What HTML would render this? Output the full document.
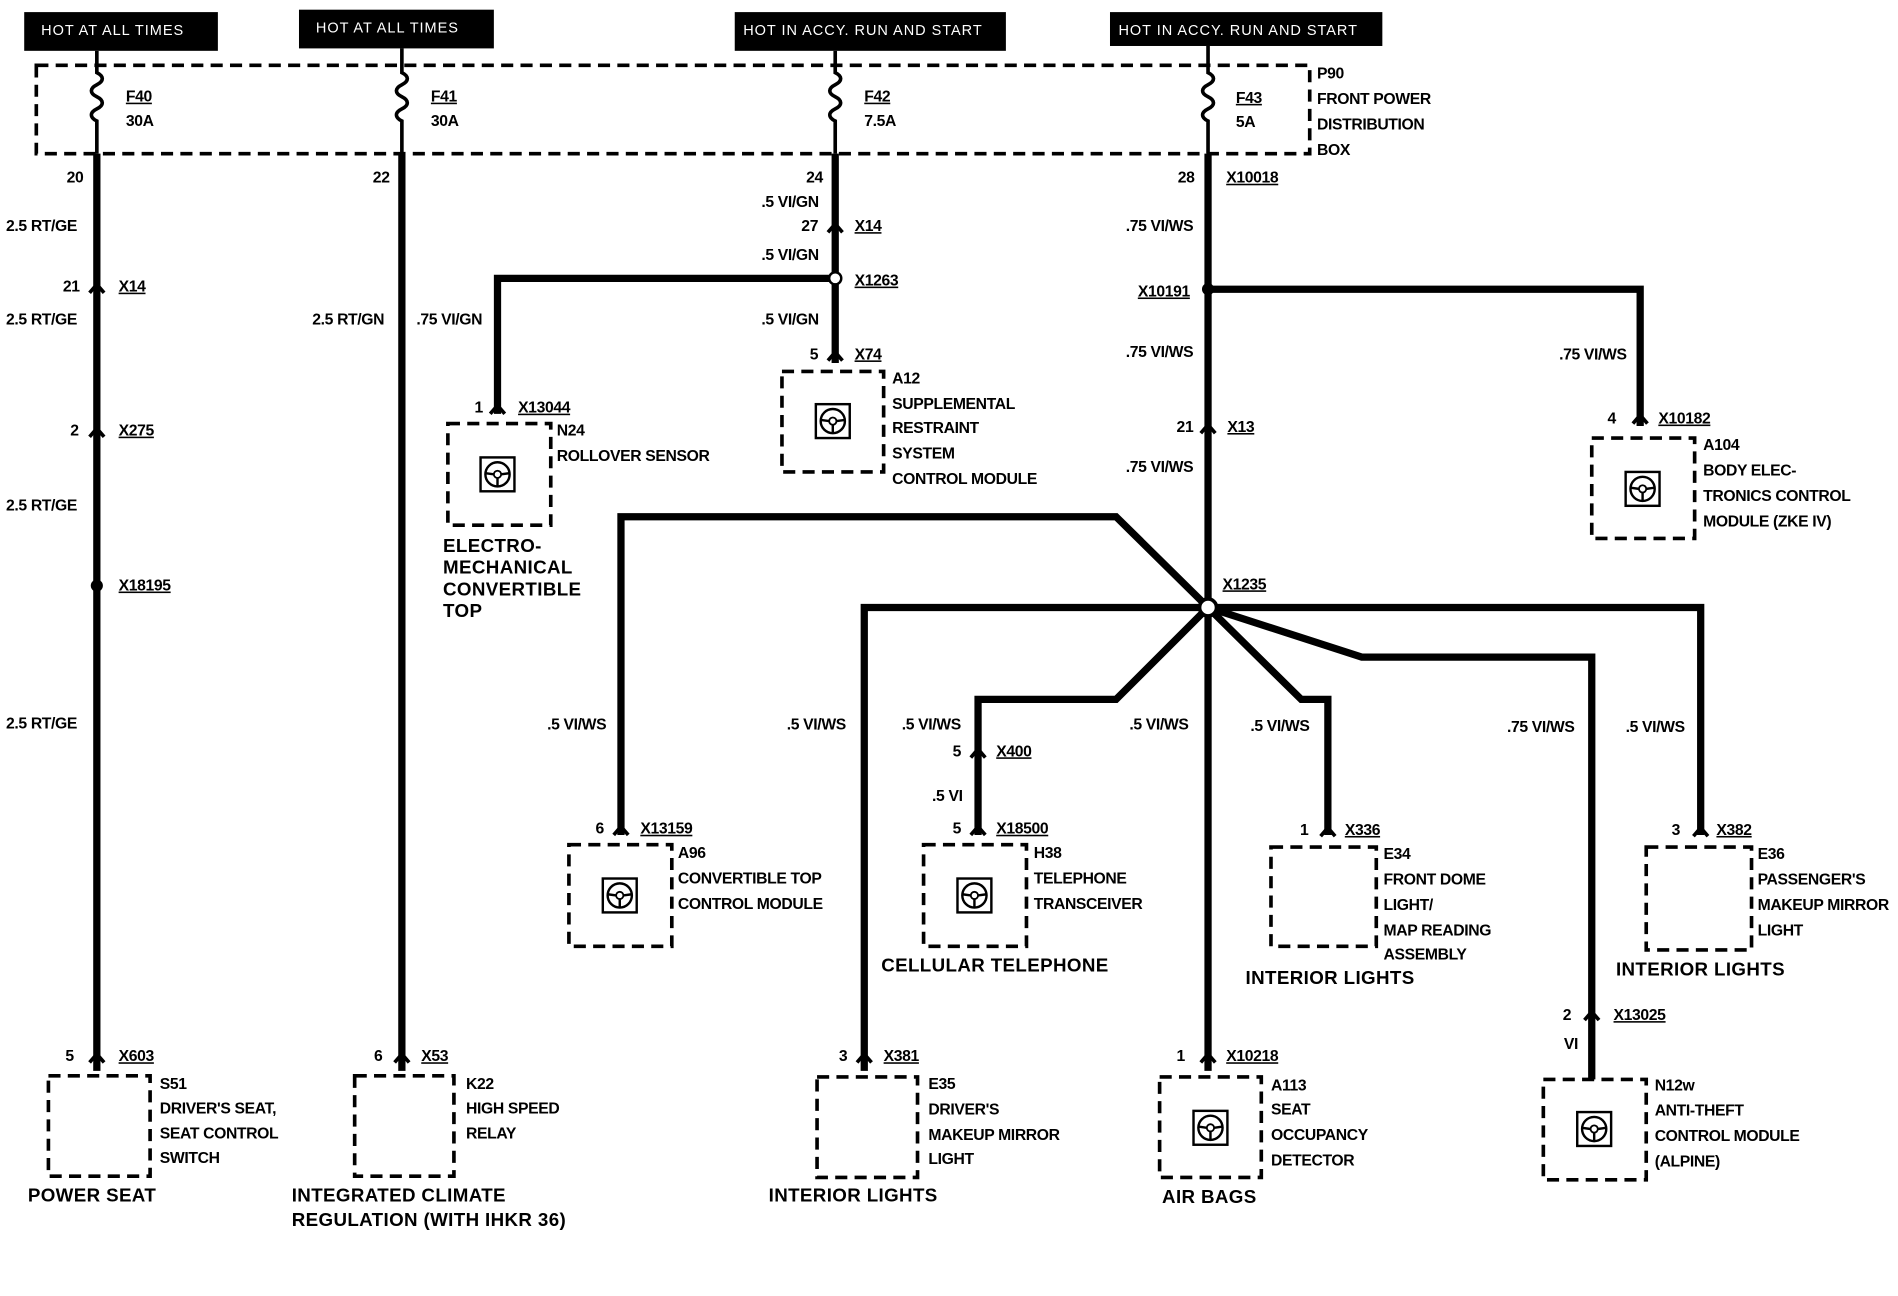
<!DOCTYPE html>
<html><head><meta charset="utf-8"><style>
html,body{margin:0;padding:0;background:#fff}
svg{display:block}
text{font-family:"Liberation Sans",Arial,sans-serif;font-size:13px;font-weight:bold;fill:#000;letter-spacing:-0.3px}
.t{fill:#fff;font-size:12px;font-weight:normal;letter-spacing:0.8px}
.big{font-size:15.5px;letter-spacing:0.3px}
.u{text-decoration:underline}
.w{stroke:#000;stroke-width:6;fill:none;stroke-linejoin:miter}
.d{stroke:#000;stroke-width:3;fill:none;stroke-dasharray:10 6}
.c{stroke:#000;stroke-width:2;fill:none}
</style></head><body>
<svg width="1898" height="1296" viewBox="0 0 1568 1071" preserveAspectRatio="none" xmlns="http://www.w3.org/2000/svg">
<defs>
<g id="ic"><rect x="-14" y="-14" width="28" height="28" fill="none" stroke="#000" stroke-width="2"/><circle r="10" fill="none" stroke="#000" stroke-width="2"/><circle r="3" fill="none" stroke="#000" stroke-width="1.5"/><path d="M-10 -1 L-3 0 M10 -1 L3 0 M0 3 L0 10" stroke="#000" stroke-width="2"/></g>
<path id="ch" d="M-6 5 L0 -2 L6 5" stroke="#000" stroke-width="3" fill="none"/>
</defs>
<!-- top labels -->
<rect x="20" y="10" width="160" height="32" fill="#000"/><text class="t" x="34" y="29">HOT AT ALL TIMES</text>
<rect x="247" y="8" width="161" height="32" fill="#000"/><text class="t" x="261" y="27">HOT AT ALL TIMES</text>
<rect x="607" y="10" width="224" height="32" fill="#000"/><text class="t" x="614" y="29">HOT IN ACCY. RUN AND START</text>
<rect x="917" y="10" width="225" height="28" fill="#000"/><text class="t" x="924" y="29">HOT IN ACCY. RUN AND START</text>
<!-- distribution box -->
<rect class="d" x="30" y="54" width="1052" height="73"/>
<g stroke="#000" stroke-width="3" fill="none">
<path d="M80 42 V60 c6 3 6 7 0 10 c-6 3 -6 7 0 10 c6 3 6 7 0 10 c-6 3 -6 7 0 10 V127"/>
<path d="M332 40 V60 c6 3 6 7 0 10 c-6 3 -6 7 0 10 c6 3 6 7 0 10 c-6 3 -6 7 0 10 V127"/>
<path d="M690 42 V60 c6 3 6 7 0 10 c-6 3 -6 7 0 10 c6 3 6 7 0 10 c-6 3 -6 7 0 10 V127"/>
<path d="M998 38 V60 c6 3 6 7 0 10 c-6 3 -6 7 0 10 c6 3 6 7 0 10 c-6 3 -6 7 0 10 V127"/>
</g>
<text class="u" x="104" y="84">F40</text><text x="104" y="104">30A</text>
<text class="u" x="356" y="84">F41</text><text x="356" y="104">30A</text>
<text class="u" x="714" y="84">F42</text><text x="714" y="104">7.5A</text>
<text class="u" x="1021" y="85">F43</text><text x="1021" y="105">5A</text>
<text x="1088" y="65">P90</text><text x="1088" y="86">FRONT POWER</text><text x="1088" y="107">DISTRIBUTION</text><text x="1088" y="128">BOX</text>
<!-- wires -->
<path class="w" d="M80 127 V885 M332 127 V885 M690 127 V300 M690 230 H411 V342 M998 127 V885 M998 239 H1355 V352"/>
<path class="w" d="M998 502 L922 427 H513 V690 M998 502 H714 V885 M998 502 L922 578 H808 V690 M998 502 L1075 578 H1097 V690 M998 502 L1125 543 H1315 V892 M998 502 H1405 V690"/>
<circle cx="998" cy="502" r="7" fill="#fff" stroke="#000" stroke-width="3"/>
<circle cx="80" cy="484" r="5" fill="#000"/><circle cx="690" cy="230" r="5" fill="#fff" stroke="#000" stroke-width="2"/><circle cx="998" cy="239" r="5" fill="#000"/>
<!-- chevrons -->
<use href="#ch" x="80" y="237"/><use href="#ch" x="80" y="356"/><use href="#ch" x="80" y="873"/>
<use href="#ch" x="332" y="873"/><use href="#ch" x="690" y="187"/><use href="#ch" x="690" y="293"/><use href="#ch" x="411" y="337"/>
<use href="#ch" x="998" y="353"/><use href="#ch" x="1355" y="345"/><use href="#ch" x="513" y="685"/><use href="#ch" x="714" y="873"/>
<use href="#ch" x="808" y="621"/><use href="#ch" x="808" y="685"/><use href="#ch" x="998" y="873"/><use href="#ch" x="1097" y="686"/>
<use href="#ch" x="1315" y="838"/><use href="#ch" x="1405" y="686"/>
<!-- wire 1 labels -->
<text x="55" y="151">20</text><text x="5" y="191">2.5 RT/GE</text><text x="52" y="241">21</text><text class="u" x="98" y="241">X14</text>
<text x="5" y="268">2.5 RT/GE</text><text x="58" y="360">2</text><text class="u" x="98" y="360">X275</text><text x="5" y="422">2.5 RT/GE</text>
<text class="u" x="98" y="488">X18195</text><text x="5" y="602">2.5 RT/GE</text><text x="54" y="877">5</text><text class="u" x="98" y="877">X603</text>
<rect class="d" x="40" y="889" width="84" height="83"/>
<text x="132" y="900">S51</text><text x="132" y="920">DRIVER'S SEAT,</text><text x="132" y="941">SEAT CONTROL</text><text x="132" y="961">SWITCH</text>
<text class="big" x="23" y="993">POWER SEAT</text>
<!-- wire 2 -->
<text x="308" y="151">22</text><text x="258" y="268">2.5 RT/GN</text><text x="309" y="877">6</text><text class="u" x="348" y="877">X53</text>
<rect class="d" x="293" y="889" width="82" height="83"/>
<text x="385" y="900">K22</text><text x="385" y="920">HIGH SPEED</text><text x="385" y="941">RELAY</text>
<text class="big" x="241" y="993">INTEGRATED CLIMATE</text><text class="big" x="241" y="1013">REGULATION (WITH IHKR 36)</text>
<!-- wire 3 -->
<text x="666" y="151">24</text><text x="629" y="171">.5 VI/GN</text><text x="662" y="191">27</text><text class="u" x="706" y="191">X14</text>
<text x="629" y="215">.5 VI/GN</text><text class="u" x="706" y="236">X1263</text><text x="344" y="268">.75 VI/GN</text><text x="629" y="268">.5 VI/GN</text>
<text x="669" y="297">5</text><text class="u" x="706" y="297">X74</text>
<rect class="d" x="646" y="307" width="84" height="83"/><use href="#ic" x="688" y="348"/>
<text x="737" y="317">A12</text><text x="737" y="338">SUPPLEMENTAL</text><text x="737" y="358">RESTRAINT</text><text x="737" y="379">SYSTEM</text><text x="737" y="400">CONTROL MODULE</text>
<text x="392" y="341">1</text><text class="u" x="428" y="341">X13044</text>
<rect class="d" x="370" y="350" width="85" height="84"/><use href="#ic" x="411" y="392"/>
<text x="460" y="360">N24</text><text x="460" y="381">ROLLOVER SENSOR</text>
<text class="big" x="366" y="456">ELECTRO-</text><text class="big" x="366" y="474">MECHANICAL</text><text class="big" x="366" y="492">CONVERTIBLE</text><text class="big" x="366" y="510">TOP</text>
<!-- wire 4 -->
<text x="973" y="151">28</text><text class="u" x="1013" y="151">X10018</text><text x="930" y="191">.75 VI/WS</text>
<text class="u" x="940" y="245">X10191</text><text x="1288" y="297">.75 VI/WS</text><text x="930" y="295">.75 VI/WS</text>
<text x="972" y="357">21</text><text class="u" x="1014" y="357">X13</text><text x="930" y="390">.75 VI/WS</text>
<text x="1328" y="350">4</text><text class="u" x="1370" y="350">X10182</text>
<rect class="d" x="1315" y="362" width="85" height="83"/><use href="#ic" x="1357" y="404"/>
<text x="1407" y="372">A104</text><text x="1407" y="393">BODY ELEC-</text><text x="1407" y="414">TRONICS CONTROL</text><text x="1407" y="435">MODULE (ZKE IV)</text>
<text class="u" x="1010" y="487">X1235</text>
<!-- branches -->
<text x="452" y="603">.5 VI/WS</text><text x="650" y="603">.5 VI/WS</text><text x="745" y="603">.5 VI/WS</text><text x="933" y="603">.5 VI/WS</text>
<text x="1033" y="604">.5 VI/WS</text><text x="1245" y="605">.75 VI/WS</text><text x="1343" y="605">.5 VI/WS</text>
<text x="492" y="689">6</text><text class="u" x="529" y="689">X13159</text>
<rect class="d" x="470" y="698" width="85" height="84"/><use href="#ic" x="512" y="740"/>
<text x="560" y="709">A96</text><text x="560" y="730">CONVERTIBLE TOP</text><text x="560" y="751">CONTROL MODULE</text>
<text x="787" y="625">5</text><text class="u" x="823" y="625">X400</text><text x="770" y="662">.5 VI</text>
<text x="787" y="689">5</text><text class="u" x="823" y="689">X18500</text>
<rect class="d" x="763" y="698" width="85" height="84"/><use href="#ic" x="805" y="740"/>
<text x="854" y="709">H38</text><text x="854" y="730">TELEPHONE</text><text x="854" y="751">TRANSCEIVER</text>
<text class="big" x="728" y="803">CELLULAR TELEPHONE</text>
<text x="1074" y="690">1</text><text class="u" x="1111" y="690">X336</text>
<rect class="d" x="1050" y="700" width="87" height="82"/>
<text x="1143" y="710">E34</text><text x="1143" y="731">FRONT DOME</text><text x="1143" y="752">LIGHT/</text><text x="1143" y="773">MAP READING</text><text x="1143" y="793">ASSEMBLY</text>
<text class="big" x="1029" y="813">INTERIOR LIGHTS</text>
<text x="1381" y="690">3</text><text class="u" x="1418" y="690">X382</text>
<rect class="d" x="1360" y="700" width="87" height="85"/>
<text x="1452" y="710">E36</text><text x="1452" y="731">PASSENGER'S</text><text x="1452" y="752">MAKEUP MIRROR</text><text x="1452" y="773">LIGHT</text>
<text class="big" x="1335" y="806">INTERIOR LIGHTS</text>
<text x="1291" y="843">2</text><text class="u" x="1333" y="843">X13025</text><text x="1292" y="867">VI</text>
<rect class="d" x="1275" y="892" width="85" height="83"/><use href="#ic" x="1317" y="933"/>
<text x="1367" y="901">N12w</text><text x="1367" y="922">ANTI-THEFT</text><text x="1367" y="943">CONTROL MODULE</text><text x="1367" y="964">(ALPINE)</text>
<text x="693" y="877">3</text><text class="u" x="730" y="877">X381</text>
<rect class="d" x="675" y="890" width="83" height="83"/>
<text x="767" y="900">E35</text><text x="767" y="921">DRIVER'S</text><text x="767" y="942">MAKEUP MIRROR</text><text x="767" y="962">LIGHT</text>
<text class="big" x="635" y="993">INTERIOR LIGHTS</text>
<text x="972" y="877">1</text><text class="u" x="1013" y="877">X10218</text>
<rect class="d" x="958" y="890" width="84" height="83"/><use href="#ic" x="1000" y="932"/>
<text x="1050" y="901">A113</text><text x="1050" y="921">SEAT</text><text x="1050" y="942">OCCUPANCY</text><text x="1050" y="963">DETECTOR</text>
<text class="big" x="960" y="994">AIR BAGS</text>
</svg>
</body></html>
